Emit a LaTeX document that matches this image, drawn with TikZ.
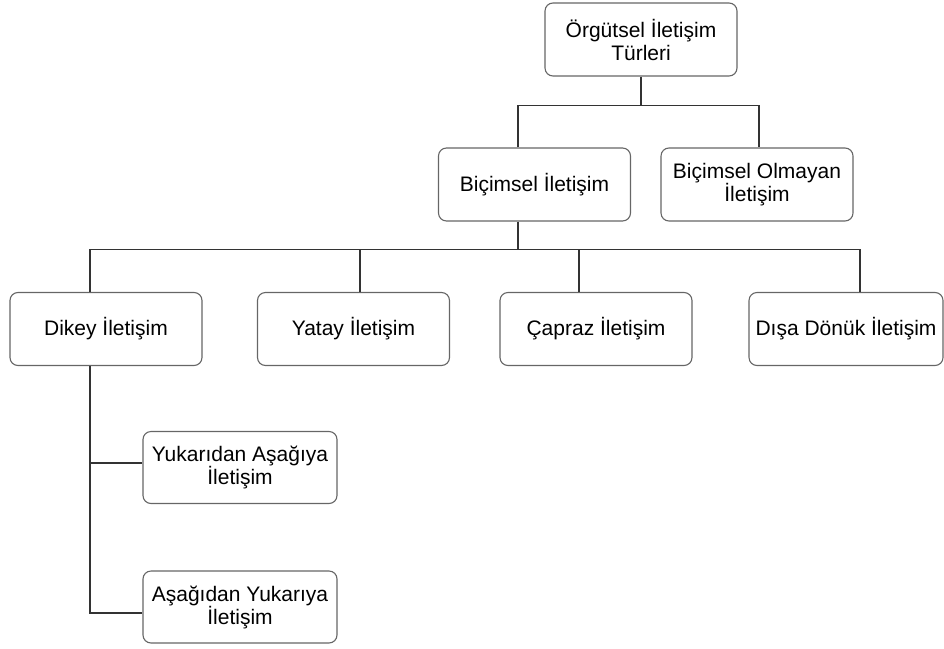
\documentclass[tikz,border=0pt]{standalone}
\usepackage{fontspec}
\setmainfont{Liberation Sans}
\tikzset{
  kutu/.style={draw=black!60, line width=1.1pt, rounded corners=8pt,
    minimum width=192pt, minimum height=73pt, align=center,
    font=\fontsize{21}{23}\selectfont, inner sep=2pt},
  baglanti/.style={draw=black!80, line width=1.3pt}
}
\begin{document}
\begin{tikzpicture}[x=1pt,y=-1pt]
      \useasboundingbox (0,0) rectangle (944,648);
      \node[kutu] (tur) at (641,39.5) {Örgütsel İletişim\\Türleri};
      \node[kutu] (bic) at (534.5,184.5) {Biçimsel İletişim};
      \node[kutu] (olm) at (757,184.5) {Biçimsel Olmayan\\İletişim};
      \node[kutu] (dik) at (106,329) {Dikey İletişim};
      \node[kutu] (yat) at (353.5,329) {Yatay İletişim};
      \node[kutu] (cap) at (596,329) {Çapraz İletişim};
      \node[kutu, minimum width=194pt] (dis) at (846,329) {Dışa Dönük İletişim};
      \node[kutu, minimum width=194pt, minimum height=72pt] (yuk) at (240,467.5) {Yukarıdan Aşağıya\\İletişim};
      \node[kutu, minimum width=194pt, minimum height=72pt] (asa) at (240,607) {Aşağıdan Yukarıya\\İletişim};
      \draw[baglanti] (tur.south) -- ++(0,29) coordinate (j1);
      \draw[baglanti] ([xshift=-16.5pt]bic.north) |- (j1) -| ([xshift=2pt]olm.north);
      \draw[baglanti] ([xshift=-16.5pt]bic.south) -- ++(0,28) coordinate (j2);
      \draw[baglanti] ([xshift=-16pt]dik.north) |- (j2) -| ([xshift=14pt]dis.north);
      \draw[baglanti] ([xshift=6.5pt]yat.north) |- (j2);
      \draw[baglanti] ([xshift=-17pt]cap.north) |- (j2);
      \draw[baglanti] ([xshift=-16pt]dik.south) |- ([yshift=4.5pt]yuk.west);
      \draw[baglanti] ([xshift=-16pt]dik.south) |- ([yshift=-6pt]asa.west);
\end{tikzpicture}
\end{document}
